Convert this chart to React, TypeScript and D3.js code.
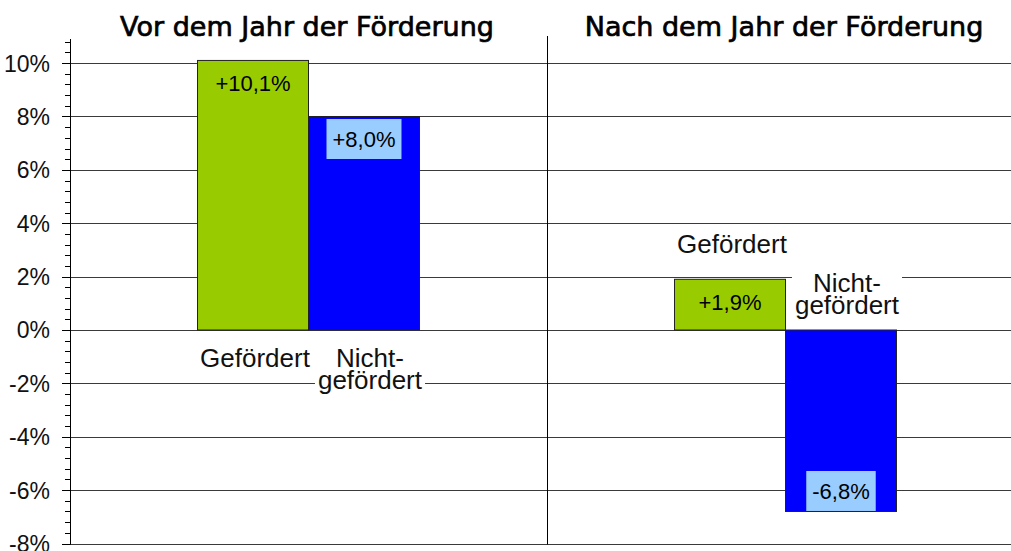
import React from "react";
import * as d3 from "d3";

// ---- data ----
const panels = ["Vor dem Jahr der Förderung", "Nach dem Jahr der Förderung"];
const seriesNames = ["Gefördert", "Nicht-gefördert"];
const categoryLines = [["Gefördert"], ["Nicht-", "gefördert"]];
const valuesGefoerdert = [10.1, 1.9];
const valuesNichtGefoerdert = [8.0, -6.8];
const majorTicks = [-8, -6, -4, -2, 0, 2, 4, 6, 8, 10];

// ---- style ----
const W = 1011;
const H = 551;
const GREEN = "#99CC00";
const BLUE = "#0000FF";
const LIGHTBLUE = "#99CCFF";
const GRID = "#3a3a3a";
const SANS = "'Liberation Sans', Arial, sans-serif";
const NARROW = "'Liberation Sans Narrow', 'Liberation Sans', Arial, sans-serif";
const TITLE = "'DejaVu Sans', Verdana, sans-serif";

const locale = d3.formatLocale({
  decimal: ",",
  thousands: ".",
  grouping: [3],
  currency: ["", "€"],
  minus: "-",
});
const fmtValue = locale.format("+.1f");
const fmtTick = locale.format("d");

let measureCtx: CanvasRenderingContext2D | null = null;
function measure(text: string, font: string): number {
  if (!measureCtx) measureCtx = document.createElement("canvas").getContext("2d");
  if (!measureCtx) return text.length * 12;
  measureCtx.font = font;
  return measureCtx.measureText(text).width;
}

export default function App() {
  const y = d3.scaleLinear().domain([-8, 10.9]).range([543.5, 39.1]);
  const x0 = d3.scaleBand<number>().domain([0, 1]).range([70, 1024]).padding(0);
  const x1 = d3
    .scaleBand<number>()
    .domain([0, 1])
    .range([0, x0.bandwidth()])
    .paddingInner(0)
    .paddingOuter(1.149);

  const seriesValues = [valuesGefoerdert, valuesNichtGefoerdert];
  const minorTicks = d3.range(-8, 10.81, 0.4).filter(
    (v) => Math.abs(v / 2 - Math.round(v / 2)) > 1e-6
  );
  const axisX = 70.5;
  const crisp = (v: number) => Math.round(v) + 0.5;

  const bars: any[] = [];
  panels.forEach((_, p) => {
    seriesNames.forEach((s, si) => {
      const v = seriesValues[si][p];
      const bx = x0(p)! + x1(si)!;
      const bw = x1.bandwidth();
      const yTop = y(Math.max(0, v));
      const yBot = y(Math.min(0, v));
      bars.push({ p, si, v, bx, bw, yTop, yBot });
    });
  });

  const labelFont = `22px ${SANS}`;
  const catFont = `26px ${SANS}`;

  return (
    <svg
      width={W}
      height={H}
      style={{ position: "absolute", left: 0, top: 0, background: "#fff" }}
    >
      <rect x={0} y={0} width={W} height={H} fill="#fff" />
      {/* gridlines */}
      {majorTicks.map((t) => (
        <line
          key={"g" + t}
          x1={62}
          x2={W}
          y1={crisp(y(t))}
          y2={crisp(y(t))}
          stroke={GRID}
          strokeWidth={1}
        />
      ))}
      {/* panel divider */}
      <line
        x1={crisp(x0(1)!)}
        x2={crisp(x0(1)!)}
        y1={36}
        y2={crisp(y(-8))}
        stroke="#000"
        strokeWidth={1}
      />
      {/* bars */}
      {bars.map((b) => (
        <rect
          key={"b" + b.p + b.si}
          x={b.bx}
          y={b.yTop}
          width={b.bw}
          height={b.yBot - b.yTop}
          fill={b.si === 0 ? GREEN : BLUE}
          stroke="#222"
          strokeWidth={1}
        />
      ))}
      {/* value labels */}
      {bars.map((b) => {
        const txt = fmtValue(b.v) + "%";
        const tw = measure(txt, labelFont);
        const bh = 40;
        const cx = b.bx + b.bw / 2;
        const by = b.v >= 0 ? b.yTop + 2.5 : b.yBot - 0.5 - bh;
        return (
          <g key={"v" + b.p + b.si}>
            <rect
              x={cx - tw / 2 - 6}
              y={by}
              width={tw + 12}
              height={bh}
              fill={b.si === 0 ? GREEN : LIGHTBLUE}
            />
            <text
              x={cx}
              y={by + bh / 2 + 8}
              textAnchor="middle"
              fontFamily={SANS}
              fontSize={22}
              fill="#000"
            >
              {txt}
            </text>
          </g>
        );
      })}
      {/* category labels */}
      {bars.map((b) => {
        const lines = categoryLines[b.si];
        const cx = b.bx + b.bw / 2 + (b.si === 1 ? 6 : 2);
        let base: number;
        if (b.p === 0) base = y(0) + 37;
        else if (b.v >= 0) base = b.yTop - 26;
        else base = y(0) - 38;
        const lh = 22.5;
        const maxW = Math.max(...lines.map((l) => measure(l, catFont)));
        return (
          <g key={"c" + b.p + b.si}>
            {lines.length > 1 && (
              <rect
                x={cx - maxW / 2 - 3}
                y={base - 22}
                width={maxW + 6}
                height={lh * (lines.length - 1) + 30}
                fill="#fff"
              />
            )}
            {lines.map((l, i) => (
              <text
                key={i}
                x={cx}
                y={base + i * lh}
                textAnchor="middle"
                fontFamily={SANS}
                fontSize={26}
                fill="#111"
              >
                {l}
              </text>
            ))}
          </g>
        );
      })}
      {/* titles */}
      {panels.map((t, p) => (
        <text
          key={"t" + p}
          x={x0(p)! + x0.bandwidth() / 2 - 1.5}
          y={36}
          textAnchor="middle"
          fontFamily={TITLE}
          fontSize={27}
          fill="#000"
          stroke="#000"
          strokeWidth={0.7}
        >
          {t}
        </text>
      ))}
      {/* y axis */}
      <line x1={axisX} x2={axisX} y1={39} y2={crisp(y(-8))} stroke="#000" strokeWidth={1} />
      {majorTicks.map((t) => (
        <line
          key={"mt" + t}
          x1={62}
          x2={axisX}
          y1={crisp(y(t))}
          y2={crisp(y(t))}
          stroke="#000"
          strokeWidth={1}
        />
      ))}
      {minorTicks.map((t) => (
        <line
          key={"mn" + t.toFixed(1)}
          x1={65}
          x2={axisX}
          y1={crisp(y(t))}
          y2={crisp(y(t))}
          stroke="#000"
          strokeWidth={1}
        />
      ))}
      {majorTicks.map((t) => (
        <text
          key={"tl" + t}
          x={50}
          y={y(t) + 8.5}
          textAnchor="end"
          fontFamily={NARROW}
          fontSize={23}
          fill="#111"
        >
          {fmtTick(t) + "%"}
        </text>
      ))}
    </svg>
  );
}
